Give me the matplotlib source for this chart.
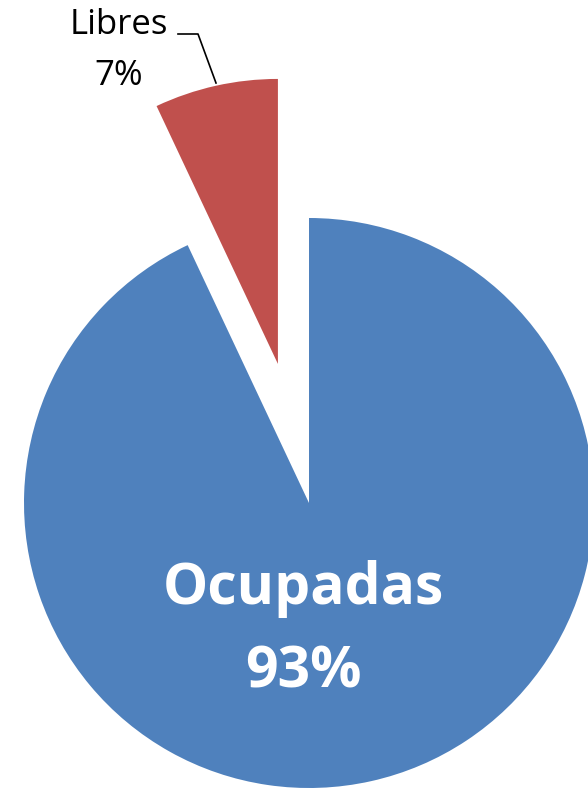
import matplotlib
matplotlib.use("Agg")
import matplotlib.pyplot as plt

labels = ["Ocupadas", "Libres"]
values = [93, 7]
colors = ["#4F81BD", "#C0504D"]
explode = [0, 0.5]  # fraction of radius

W, H = 588, 792

fig = plt.figure(figsize=(W / 100, H / 100), dpi=100)
ax = fig.add_axes([0, 0, 1, 1])

# pie centre / radius in pixel units (image y flipped)
cx, cy, r = 309, H - 503, 285
ax.pie(values, colors=colors, explode=[e * r for e in explode], startangle=90,
       counterclock=False, center=(cx, cy), radius=r,
       wedgeprops=dict(linewidth=0), frame=True)
ax.set_xlim(0, W)
ax.set_ylim(0, H)
ax.axis("off")

pct = [f"{v}%" for v in values]

# big label inside Ocupadas
ax.text(303.5, H - 604, labels[0], ha="center", va="baseline", color="white",
        fontsize=41, fontweight="bold", family="Open Sans")
ax.text(303.5, H - 687, pct[0], ha="center", va="baseline", color="white",
        fontsize=41, fontweight="bold", family="Open Sans")

# outside label for Libres with leader line
ax.text(119, H - 34, labels[1], ha="center", va="baseline", color="black",
        fontsize=25, family="Open Sans")
ax.text(118.5, H - 85, pct[1], ha="center", va="baseline", color="black",
        fontsize=25, family="Open Sans")
ax.plot([178, 198, 216], [H - 34, H - 34, H - 83], color="black", lw=1.2)

fig.savefig("out.png", dpi=100)
